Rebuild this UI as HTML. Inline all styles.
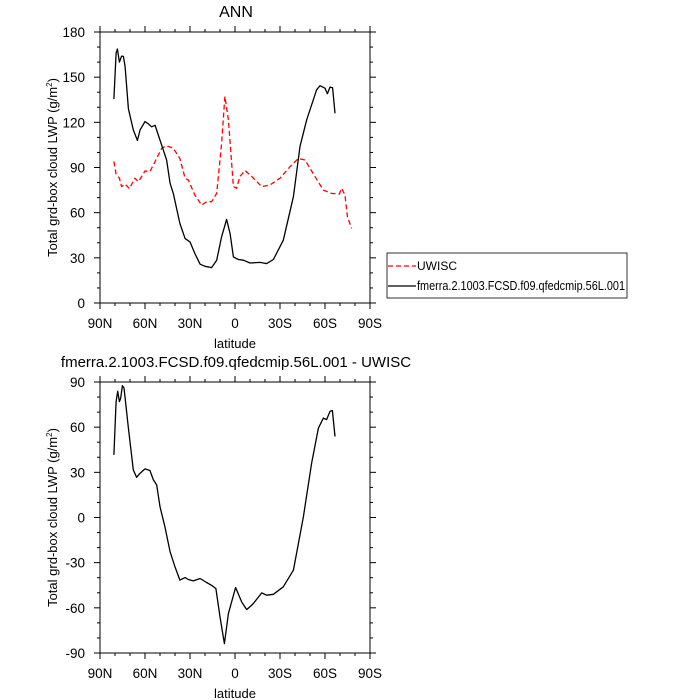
<!DOCTYPE html>
<html><head><meta charset="utf-8"><style>
body{margin:0;background:#fff;}
svg{display:block;font-family:"Liberation Sans",sans-serif;}
</style></head><body>
<svg id="chart" width="700" height="700" xmlns="http://www.w3.org/2000/svg">
<text x="236" y="17" text-anchor="middle" font-size="16">ANN</text>
<text x="236" y="367" text-anchor="middle" font-size="15">fmerra.2.1003.FCSD.f09.qfedcmip.56L.001 - UWISC</text>
<g id="p1"></g>
<g id="p2"></g>
<g>
<rect x="387" y="253" width="240" height="45" fill="none" stroke="#000" stroke-width="0.8"/>
<line x1="388" y1="266" x2="416" y2="266" stroke="#f00" stroke-width="1.2" stroke-dasharray="5,3"/>
<text x="417" y="270" font-size="12">UWISC</text>
<line x1="388" y1="286" x2="416" y2="286" stroke="#000" stroke-width="1.2"/>
<text x="417" y="290" font-size="12.5" textLength="208" lengthAdjust="spacingAndGlyphs">fmerra.2.1003.FCSD.f09.qfedcmip.56L.001</text>
</g>
</svg>
<script>
const xTicks=[90,60,30,0,-30,-60,-90];
const xTickLabels=["90N","60N","30N","0","30S","60S","90S"];
const y1Ticks=[0,30,60,90,120,150,180];
const y2Ticks=[-90,-60,-30,0,30,60,90];
const modelLat=[80.7,79.3,78.4,77.1,75.6,74.4,73.3,71.1,67.8,65.1,63.3,60,57.8,55.6,53.3,51.1,47.8,45.6,43.3,41.1,36.7,33.3,30,26.7,23.3,20,15.6,12.2,8.9,5.6,3.3,1.1,-2.2,-5.6,-10,-16.7,-21.1,-25.6,-32.2,-38.9,-43.3,-47.8,-54.4,-56.7,-60,-61.6,-63.3,-65.1,-66.7];
const modelVal=[135.4,166,168.7,160,164,163.8,157,129,115,108,115,120.5,119,117,118,111.6,101.7,95,79.5,72.8,52.8,42.8,40.6,32.8,25.8,24.4,23.5,28.4,44,55.5,46,30.6,28.9,28.4,26.6,27,26.2,28.9,41.7,70.6,104,121.7,141.6,144.3,142.7,139,143.4,143,126];
const obsLat=[80.7,79.3,77.1,75.6,73.3,70.4,66.7,64.4,60,56.7,53.3,48.9,45.6,41.1,36.7,33.3,31.1,26.7,22.2,18.9,15.6,12.2,8.9,6.7,4.4,1.1,-1.1,-3.3,-6.7,-11.1,-17.8,-23.3,-30,-36.7,-42.2,-46.7,-54.4,-58.9,-64.4,-69.6,-71.1,-73.3,-74.9,-77.8];
const obsVal=[94,85.7,82.9,77.3,79,76,82.9,80.6,87.7,87.3,94,102.8,104.4,102.8,96,82.9,81.7,71.7,65,67.3,67.3,72.8,106,137.2,121.7,77.3,76.2,84,88,84,77.3,78.4,82.9,90.6,96,95,82.2,75,72.8,72.4,76.2,71.7,57.3,49.5];
const diffLat=[80.7,79.3,78.2,77.1,76.2,75.1,74,71.1,67.8,65.6,63.3,60,56.7,54.4,52.2,50,46.7,43.3,40,36.7,33.3,31.1,27.8,23.3,18.9,15.6,12.7,10,7.1,4.4,-0.4,-4.4,-7.8,-12.2,-17.8,-21.1,-25.6,-32.2,-38.9,-45.6,-51.1,-55.6,-58.9,-61.1,-63.3,-64.9,-66.7];
const diffVal=[41.6,77,83.8,77,79.3,87.6,86,59.4,31.6,26.7,29.4,32.3,31.2,25,21.6,7.2,-6.1,-22.8,-32.8,-41.6,-39.9,-41.2,-42.1,-40.5,-43.2,-45,-47.2,-66,-83.8,-63.8,-46.5,-56,-61.2,-57.2,-50.1,-51.6,-51,-46,-35,0.5,36,59.4,66,65,70.5,71.1,53.8];
const NS="http://www.w3.org/2000/svg";
function mk(tag,attrs,parent){const e=document.createElementNS(NS,tag);for(const k in attrs)e.setAttribute(k,attrs[k]);parent.appendChild(e);return e;}
function panel(g,top,ymin,ymax,yt){
 const L=100,R=370,T=top,B=top+271;
 const xs=v=>L+(90-v)/180*(R-L);
 const ys=v=>B-(v-ymin)/(ymax-ymin)*(B-T);
 const fr=mk('rect',{x:L,y:T,width:R-L,height:B-T,fill:'none',stroke:'#000','stroke-width':1},g);
 
 
 for(let v=90;v>=-90;v-=10){const x=xs(v);const len=(v%30===0)?6:3;
  mk('line',{x1:x,y1:B,x2:x,y2:B+len,stroke:'#000'},g);mk('line',{x1:x,y1:T,x2:x,y2:T-len,stroke:'#000'},g);}
 xTicks.forEach((v,i)=>{const t=mk('text',{x:xs(v),y:B+25,'text-anchor':'middle','font-size':13.5},g);t.textContent=xTickLabels[i];
  
  });
 for(let v=ymin;v<=ymax;v+=10){const y=ys(v);const len=((v-ymin)%30===0)?6:3;
  mk('line',{x1:L,y1:y,x2:L-len,y2:y,stroke:'#000'},g);mk('line',{x1:R,y1:y,x2:R+len,y2:y,stroke:'#000'},g);}
 yt.forEach(v=>{const t=mk('text',{x:L-15,y:ys(v)+5,'text-anchor':'end','font-size':13.5},g);t.textContent=v;
  
  });
 const xl=mk('text',{x:(L+R)/2,y:B+45,'text-anchor':'middle','font-size':13},g);xl.textContent='latitude';
 
 
 const cy=(T+B)/2;
 const yl=mk('text',{x:57,y:cy,'text-anchor':'middle','font-size':13,transform:`rotate(-90 57 ${cy})`},g);
 
 
 yl.innerHTML='Total grd-box cloud LWP (g/m<tspan font-size="8" dy="-5">2</tspan><tspan dy="5">)</tspan>';
 return {xs,ys};
}
function line(g,sc,lat,val,color,dash,name){
 const d=lat.map((v,i)=>(i?'L':'M')+sc.xs(v).toFixed(1)+','+sc.ys(val[i]).toFixed(1)).join('');
 const p=mk('path',{d:d,fill:'none',stroke:color,'stroke-width':1.3,'stroke-linejoin':'round'},g);
 if(dash)p.setAttribute('stroke-dasharray',dash);
 
 
}
const g1=document.getElementById('p1'),g2=document.getElementById('p2');
const s1=panel(g1,32,0,180,y1Ticks);
line(g1,s1,obsLat,obsVal,'#f00','5,3','uwisc-line');
line(g1,s1,modelLat,modelVal,'#000',null,'model-line');
const s2=panel(g2,382,-90,90,y2Ticks);
line(g2,s2,diffLat,diffVal,'#000',null,'difference-line');
</script>
</body></html>
